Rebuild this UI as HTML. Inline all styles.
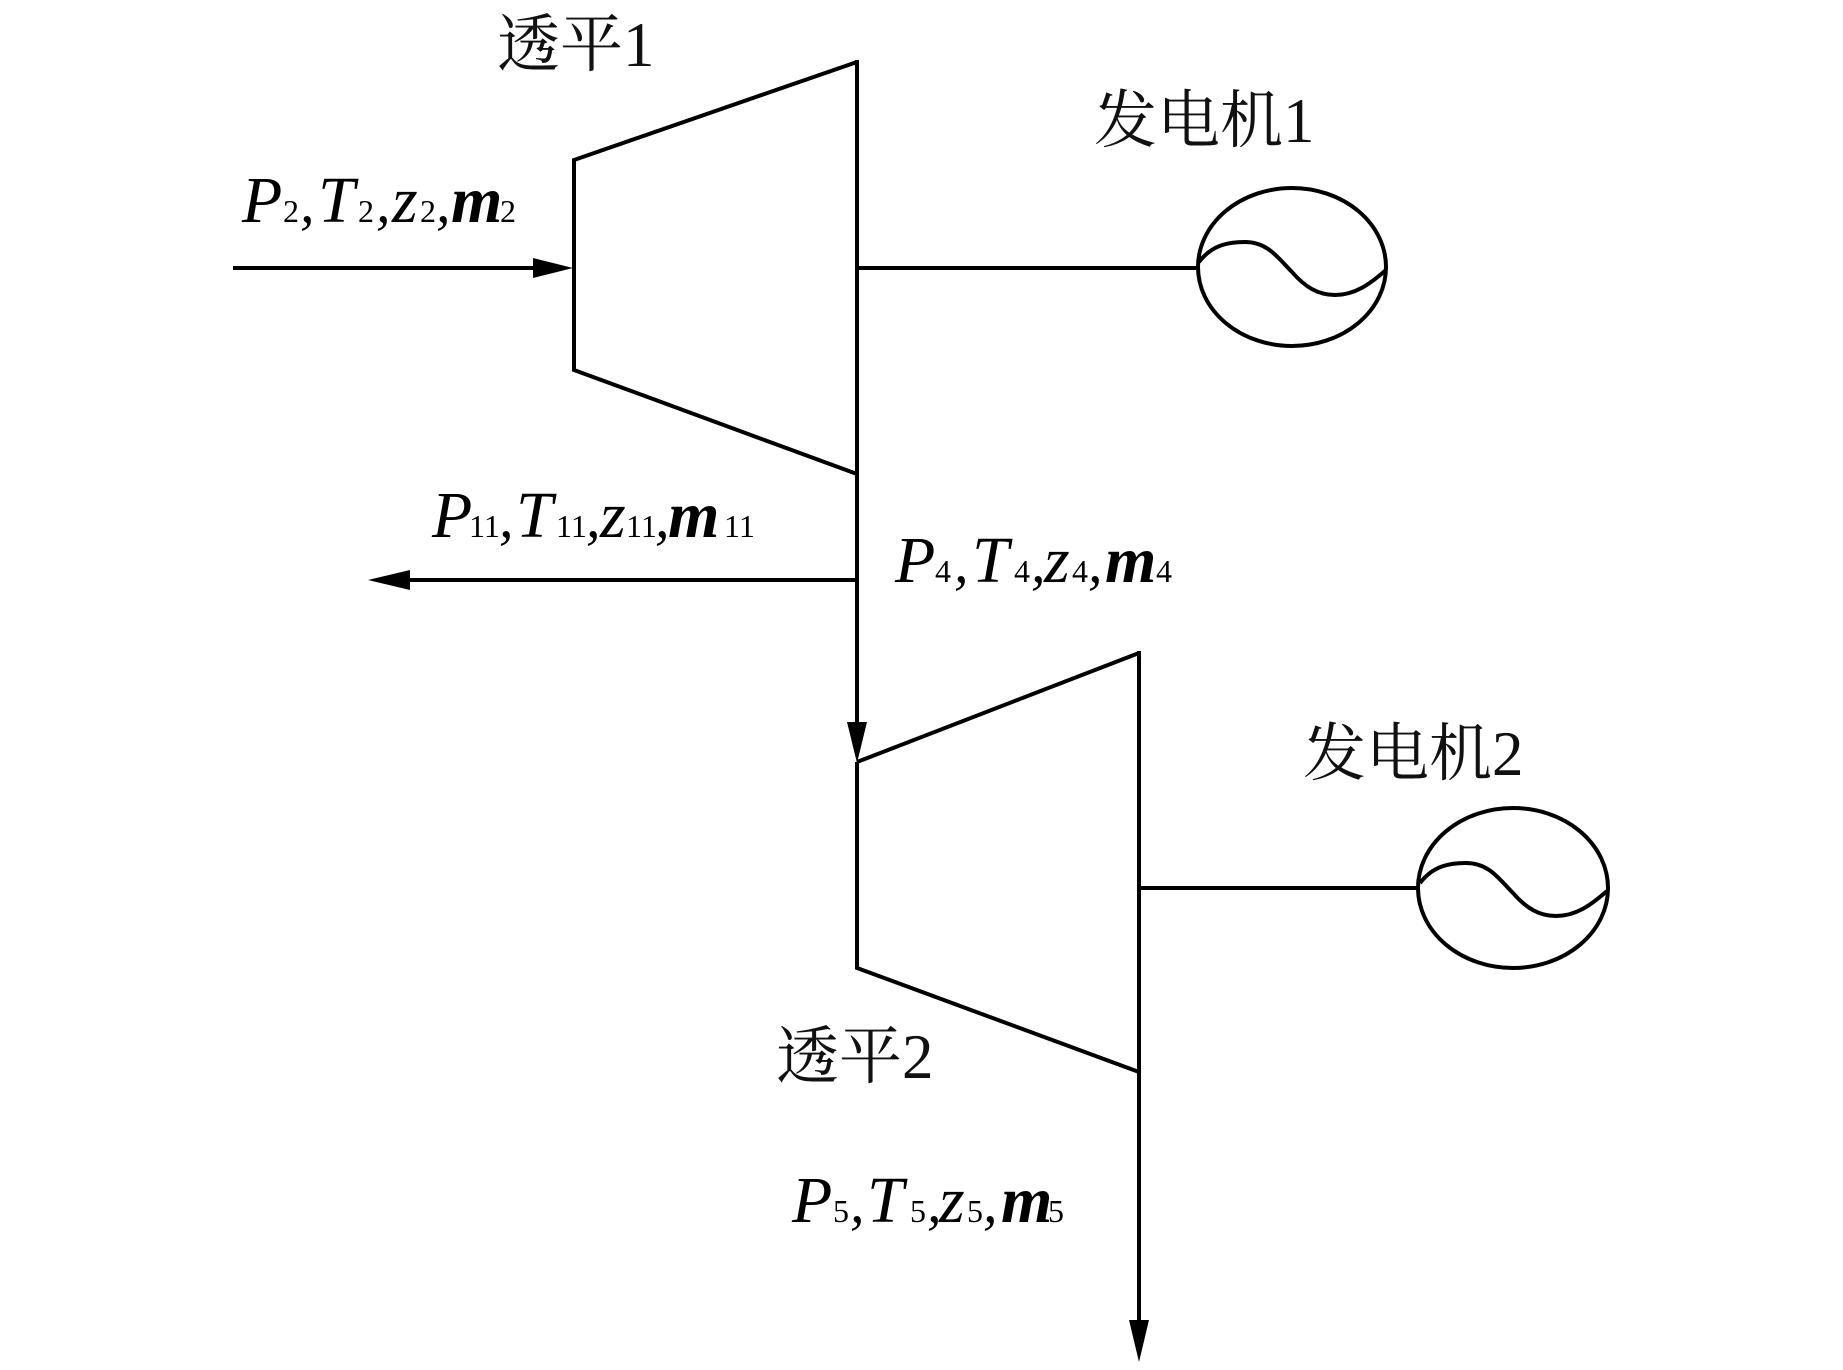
<!DOCTYPE html>
<html>
<head>
<meta charset="utf-8">
<style>
  html,body{margin:0;padding:0;background:#fff;}
  body{width:1843px;height:1370px;overflow:hidden;}
  svg{display:block;}
  .lat{font-family:"Liberation Serif","Noto Serif CJK SC",serif;font-style:italic;fill:#000;}
  .cjk{font-family:"Liberation Serif","Noto Serif CJK SC",serif;font-size:63px;fill:#111;}
  .s{font-style:normal;font-size:32px;}
  .c{font-style:italic;font-size:58px;}
</style>
</head>
<body>
<svg width="1843" height="1370" viewBox="0 0 1843 1370" xmlns="http://www.w3.org/2000/svg">
  <rect x="0" y="0" width="1843" height="1370" fill="#fff"/>
  <g stroke="#000" stroke-width="4" fill="none" stroke-linejoin="miter">
    <!-- Turbine 1 -->
    <polyline points="857,62 574,160 574,370 857,474"/>
    <line x1="857" y1="60" x2="857" y2="730"/>
    <!-- Input arrow -->
    <line x1="233" y1="268" x2="540" y2="268"/>
    <!-- Shaft 1 -->
    <line x1="857" y1="268" x2="1198" y2="268"/>
    <!-- Generator 1 -->
    <ellipse cx="1292" cy="267" rx="94" ry="79"/>
    <path d="M1199,262 C1212,245 1228,242 1245,242 C1268,242 1278,258 1292,272 C1305,287 1318,295 1335,295 C1355,295 1370,284 1386,270"/>
    <!-- Branch -->
    <line x1="857" y1="580" x2="400" y2="580"/>
    <!-- Turbine 2 -->
    <polyline points="857,762 857,968 1139,1072"/>
    <line x1="857" y1="762" x2="1139" y2="653"/>
    <line x1="1139" y1="651" x2="1139" y2="1325"/>
    <!-- Shaft 2 -->
    <line x1="1139" y1="888" x2="1418" y2="888"/>
    <!-- Generator 2 -->
    <ellipse cx="1513" cy="888" rx="95" ry="80"/>
    <path d="M1420,883 C1433,866 1449,863 1466,863 C1489,863 1499,879 1513,893 C1526,908 1539,916 1556,916 C1576,916 1591,905 1607,891"/>
  </g>
  <!-- Arrowheads -->
  <g fill="#000" stroke="none">
    <polygon points="573,268 533,258 533,278"/>
    <polygon points="368,580 410,570 410,590"/>
    <polygon points="857,763 847,722 867,722"/>
    <polygon points="1139,1362 1129,1320 1149,1320"/>
  </g>

  <!-- CJK labels -->
  <text class="cjk" x="497" y="66">透平1</text>
  <text class="cjk" x="1094" y="142">发电机1</text>
  <text class="cjk" x="1303" y="775">发电机2</text>
  <text class="cjk" x="776" y="1078">透平2</text>

  <!-- P2 label -->
  <text class="lat" y="222" font-size="66">
    <tspan x="242">P</tspan><tspan x="283" class="s">2</tspan><tspan x="300" class="c">,</tspan><tspan x="318">T</tspan><tspan x="358" class="s">2</tspan><tspan x="376" class="c">,</tspan><tspan x="392">z</tspan><tspan x="420" class="s">2</tspan><tspan x="436" class="c">,</tspan><tspan x="451" font-weight="bold">m</tspan><tspan x="500" class="s">2</tspan>
  </text>

  <!-- P11 label -->
  <text class="lat" y="537" font-size="66">
    <tspan x="432">P</tspan><tspan x="469" class="s">11</tspan><tspan x="499" class="c">,</tspan><tspan x="516">T</tspan><tspan x="556" class="s">11</tspan><tspan x="586" class="c">,</tspan><tspan x="600">z</tspan><tspan x="626" class="s">11</tspan><tspan x="655" class="c">,</tspan><tspan x="668" font-weight="bold">m</tspan><tspan x="724" class="s" font-size="36">11</tspan>
  </text>

  <!-- P4 label -->
  <text class="lat" y="582" font-size="66">
    <tspan x="895">P</tspan><tspan x="935" class="s">4</tspan><tspan x="954" class="c">,</tspan><tspan x="972">T</tspan><tspan x="1014" class="s">4</tspan><tspan x="1031" class="c">,</tspan><tspan x="1044">z</tspan><tspan x="1072" class="s">4</tspan><tspan x="1088" class="c">,</tspan><tspan x="1105" font-weight="bold">m</tspan><tspan x="1156" class="s">4</tspan>
  </text>

  <!-- P5 label -->
  <text class="lat" y="1222" font-size="66">
    <tspan x="792">P</tspan><tspan x="833" class="s">5</tspan><tspan x="850" class="c">,</tspan><tspan x="867">T</tspan><tspan x="910" class="s">5</tspan><tspan x="927" class="c">,</tspan><tspan x="939">z</tspan><tspan x="967" class="s">5</tspan><tspan x="983" class="c">,</tspan><tspan x="1001" font-weight="bold">m</tspan><tspan x="1048" class="s">5</tspan>
  </text>
</svg>
</body>
</html>
